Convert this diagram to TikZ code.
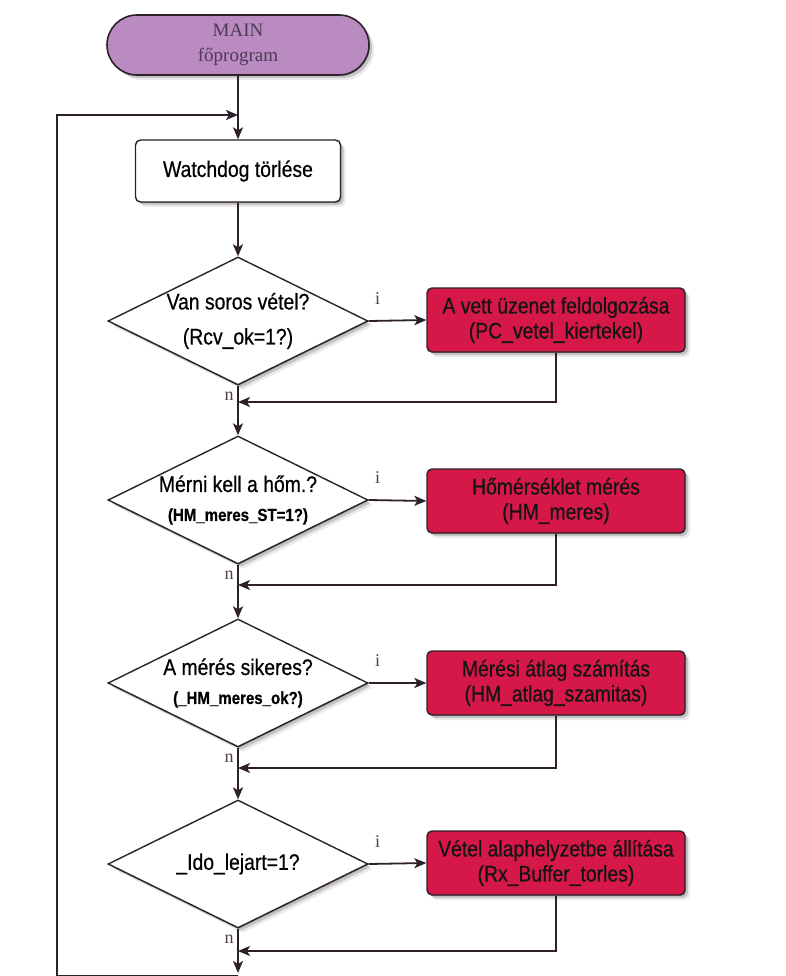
\documentclass[tikz,border=0pt]{standalone}
\usepackage{fontspec}
\setmainfont{Liberation Serif}
\newfontfamily\boxfont[FakeStretch=0.86,FakeBold=0.6]{Liberation Sans}
\usetikzlibrary{shapes.geometric,arrows.meta,shadows,calc}

\definecolor{edge}{RGB}{45,32,42}
\definecolor{mainfill}{RGB}{186,139,193}
\definecolor{mainink}{RGB}{78,58,84}
\definecolor{taskred}{RGB}{214,24,72}

\tikzset{
  softshadow/.style={
    general shadow={shadow xshift=1pt,shadow yshift=-1pt,fill=black,opacity=0.2},
    general shadow={shadow xshift=3pt,shadow yshift=-3pt,fill=black,opacity=0.16},
    general shadow={shadow xshift=5pt,shadow yshift=-5pt,fill=black,opacity=0.08}},
  terminal/.style={draw=edge, line width=1.6pt, fill=mainfill, rounded corners=30pt,
    minimum width=262pt, minimum height=60pt, inner sep=0pt, align=center,
    text=mainink, font=\fontsize{19}{25}\selectfont, softshadow},
  process/.style={draw=edge, line width=1.4pt, fill=white, rounded corners=5pt,
    minimum width=205pt, minimum height=62pt, inner sep=0pt, align=center,
    font=\boxfont\fontsize{22.5}{25}\selectfont, softshadow},
  task/.style={process, fill=taskred, minimum width=258pt, minimum height=64pt,
    text=black!92},
  decision/.style={diamond, draw=edge, line width=1.4pt, fill=white,
    minimum width=260pt, minimum height=128pt, inner sep=0pt, softshadow},
  dectext/.style={font=\boxfont\fontsize{22.5}{29}\selectfont, align=center},
  flow/.style={draw=edge, line width=1.8pt, -{Stealth[length=12pt,width=10pt,inset=3pt]}},
  branch/.style={font=\fontsize{18}{18}\selectfont, text=edge!85, inner sep=0pt},
}
\newcommand{\condbold}[1]{{\bfseries\fontsize{17.5}{20}\selectfont #1}}

\begin{document}
\begin{tikzpicture}[x=1pt,y=-1pt]
  \useasboundingbox (0,0) rectangle (786,976);
  \fill[white] (0,0) rectangle (786,976);

  % start and watchdog
  \node[terminal] (main) at (238,45) {MAIN\\főprogram};
  \node[process] (wd) at (238,171) {Watchdog törlése};

  % decisions and their tasks
  \node[decision] (d1) at (238,321) {};
  \node[dectext] (d1t) at (d1) {Van soros vétel?\\[6pt](Rcv\_ok=1?)};
  \node[task] (b1) at (556,320) {A vett üzenet feldolgozása\\(PC\_vetel\_kiertekel)};

  \node[decision] (d2) at (238,500) {};
  \node[dectext] (d2t) at (d2) {Mérni kell a hőm.?\\\condbold{(HM\_meres\_ST=1?)}};
  \node[task] (b2) at (556,501) {Hőmérséklet mérés\\(HM\_meres)};

  \node[decision] (d3) at (238,683) {};
  \node[dectext] (d3t) at (d3) {A mérés sikeres?\\\condbold{(\_HM\_meres\_ok?)}};
  \node[task] (b3) at (556,683) {Mérési átlag számítás\\(HM\_atlag\_szamitas)};

  \node[decision] (d4) at (238,864) {};
  \node[dectext] (d4t) at (d4) {\_Ido\_lejart=1?};
  \node[task] (b4) at (556,863) {Vétel alaphelyzetbe állítása\\(Rx\_Buffer\_torles)};

  % junction points on the main line
  \coordinate (jtop) at (238,115);
  \coordinate (j1) at (238,402);
  \coordinate (j2) at (238,585);
  \coordinate (j3) at (238,768);
  \coordinate (j4) at (238,951);
  \coordinate (endtip) at (238,973);
  \coordinate (mb) at (238,976);
  \coordinate (lb) at (57,976);
  \coordinate (lt) at (57,115);

  % main line
  \draw[flow] (main.south) -- (wd.north);
  \draw[flow] (wd.south) -- (d1.north);
  \draw[flow] (d1.south) -- (d2.north);
  \draw[flow] (d2.south) -- (d3.north);
  \draw[flow] (d3.south) -- (d4.north);
  \draw[flow] (d4.south) -- (endtip);

  % yes branches and returns
  \foreach \k in {1,2,3,4}{
    \draw[flow] (d\k.east) -- (b\k.west);
    \draw[flow] (b\k.south) |- (j\k);
    \node[branch] (i\k) at ($(d\k.east)+(9,-22)$) {i};
    \node[branch] (n\k) at ($(d\k.south)+(-9,11)$) {n};
  }

  % loop back to the start
  \draw[flow] (mb) -- (lb) -- (lt) -- (jtop);
\end{tikzpicture}
\end{document}
